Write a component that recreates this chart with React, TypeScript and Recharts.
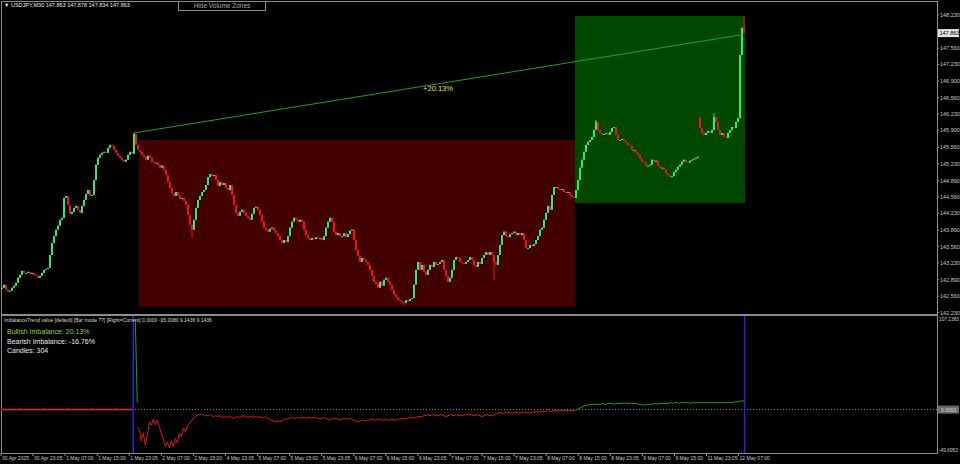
import React from "react";
import { ComposedChart, Bar, Line, XAxis, YAxis, ReferenceArea, ReferenceLine, Label } from "recharts";

// USDJPY M30 closes, one value per 30-minute bar
const preRangeCloses = [
  142.73, 142.79, 142.69, 142.65, 142.67, 142.73, 142.77, 142.83, 142.93, 142.99,
  143.07, 143.03, 143.03, 143.05, 143.01, 143.03, 142.99, 142.97, 142.93, 142.97,
  143.03, 143.09, 143.11, 143.13, 143.39, 143.63, 143.77, 143.90, 143.98, 144.10,
  144.14, 144.54, 144.58, 144.40, 144.22, 144.26, 144.34, 144.38, 144.30, 144.24,
  144.38, 144.50, 144.62, 144.70, 144.58, 144.60, 144.90, 145.21, 145.35, 145.41,
  145.45, 145.47, 145.45, 145.55, 145.61, 145.59, 145.51, 145.45, 145.39, 145.35,
  145.31, 145.27, 145.31, 145.41, 145.47, 145.43, 145.83,
];

const bearRangeCloses = [
  145.61, 145.51, 145.47, 145.41, 145.37, 145.31, 145.39, 145.35, 145.27, 145.25,
  145.25, 145.21, 145.15, 145.19, 145.11, 145.00, 144.86, 144.74, 144.64, 144.58,
  144.66, 144.58, 144.52, 144.54, 144.48, 144.40, 144.20, 144.00, 143.90, 144.10,
  144.34, 144.50, 144.58, 144.66, 144.70, 144.80, 144.96, 145.02, 144.98, 145.00,
  144.90, 144.78, 144.86, 144.80, 144.84, 144.74, 144.70, 144.80, 144.60, 144.40,
  144.24, 144.18, 144.26, 144.30, 144.24, 144.18, 144.14, 144.10, 144.22, 144.34,
  144.36, 144.30, 144.20, 144.06, 143.94, 143.90, 143.86, 143.92, 143.94, 143.88,
  143.83, 143.77, 143.69, 143.63, 143.69, 143.65, 143.77, 143.94, 144.06, 144.14,
  144.10, 144.06, 144.10, 144.06, 143.90, 143.79, 143.73, 143.69, 143.73, 143.71,
  143.75, 143.73, 143.73, 143.69, 143.77, 143.94, 144.06, 144.14, 144.06, 143.86,
  143.79, 143.83, 143.77, 143.77, 143.83, 143.75, 143.81, 143.88, 143.90, 143.69,
  143.49, 143.37, 143.25, 143.33, 143.29, 143.25, 143.19, 143.09, 142.97, 142.85,
  142.81, 142.73, 142.85, 142.77, 142.89, 142.93, 142.85, 142.79, 142.69, 142.59,
  142.54, 142.48, 142.46, 142.44, 142.42, 142.48, 142.46, 142.50, 142.52, 142.79,
  143.09, 143.25, 143.09, 143.19, 143.05, 142.99, 143.09, 143.19, 143.15, 143.25,
  143.19, 143.21, 143.25, 143.29, 143.09, 142.97, 142.85, 142.93, 143.09, 143.29,
  143.35, 143.33, 143.25, 143.23, 143.21, 143.25, 143.29, 143.35, 143.29, 143.19,
  143.15, 143.25, 143.21, 143.33, 143.39, 143.45, 143.39, 143.45, 143.39, 143.25,
  143.19, 143.39, 143.59, 143.79, 143.86, 143.77, 143.75, 143.81, 143.83, 143.86,
  143.79, 143.83, 143.79, 143.83, 143.69, 143.53, 143.53, 143.59, 143.57, 143.61,
  143.69, 143.77, 143.90, 143.94, 144.10, 144.24, 144.38, 144.30, 144.60, 144.76,
  144.76, 144.72, 144.70, 144.72, 144.66, 144.64, 144.66, 144.60, 144.56, 144.54,
];

const bullRangeCloses = [
  144.70, 144.90, 145.15, 145.31, 145.47, 145.61, 145.67, 145.71, 145.77, 145.91,
  146.07, 145.91, 145.85, 145.81, 145.83, 145.85, 145.81, 145.87, 145.95, 145.97,
  145.81, 145.71, 145.71, 145.73, 145.69, 145.65, 145.61, 145.59, 145.51, 145.51,
  145.45, 145.41, 145.33, 145.27, 145.25, 145.19, 145.19, 145.21, 145.31, 145.27,
  145.29, 145.19, 145.15, 145.15, 145.11, 145.04, 145.00, 144.96, 144.98, 145.06,
  145.11, 145.17, 145.21, 145.27, 145.31, 145.27, 145.25, 145.29, 145.31, 145.33,
  145.35, 145.37, 145.95, 145.85, 145.81, 145.85, 145.89, 145.85, 145.91, 146.17,
  146.07, 145.91, 145.81, 145.85, 145.77, 145.75, 145.85, 145.91, 145.97, 145.95,
  146.07, 146.15, 147.42, 147.97, 147.863,
];

const firstOpen = 142.71;
// weekend gap: the first bar on Monday opens far from Friday's close
const gapOpens: Record<number, number> = { 349: 146.17 };
const wickHighs: Record<number, number> = { 66: 145.85, 297: 146.11, 356: 146.25, 371: 148.19 };
const wickLows: Record<number, number> = { 95: 143.73, 201: 142.38, 246: 142.89 };

// ImbalanceTrend sub-window
const bullSpike = [104, 8]; // bars 67-68
const bearImbalance = [
  -20, -23, -36, -27, -41, -30, -14, -18, -11, -17,
  -12, -20, -27, -34, -42, -37, -44, -36, -42, -33,
  -38, -27, -31, -21, -25, -19, -16, -13, -10, -8,
  -6, -6,
  -5, -6, -7, -7, -6, -7, -8, -7, -8, -7,
  -8, -9, -8, -9, -8, -9, -10, -9, -8, -9,
  -8, -7, -8, -9, -8, -8, -9, -8, -9, -8,
  -9, -9, -8, -10,
  -11, -12, -13, -14, -13, -14, -13, -12, -11, -10,
  -10, -9, -10, -10, -9, -10, -9, -9, -10, -9, -9, -10, -9, -9, -10,
  -10, -10, -9, -10, -11, -12, -11, -10, -10, -11, -12, -11, -10, -10, -11, -10,
  -11, -12, -13, -14, -13, -12, -12, -13, -12, -12, -11, -12, -12, -11, -11, -12, -12, -11, -12, -12, -11, -12,
  -12, -11, -11, -10, -11, -10, -10, -9, -9, -10, -9, -8, -8, -8, -7, -7, -6, -7, -6, -6, -7,
  -7, -6, -6, -7, -8, -7, -6, -6, -7, -6, -6, -7, -7, -6, -6, -5, -6, -6, -7, -6, -6, -7, -8, -7, -6, -6, -7, -7, -6,
  -5, -4, -3, -4, -4, -3, -3, -4, -4, -3, -3, -3, -4, -3, -3, -3, -4, -3, -3, -3, -2, -3, -3,
  -2, -2, -2, -1, -2, -2, -1, -1, -2, -1, -1, -1, -1, -1, -1, -1, -1, 0,
];
const bullImbalance = [
  0, 1, 2, 3, 4, 5, 5, 6, 6, 6,
  6, 6, 6, 7, 6, 6, 7, 7, 7, 6, 7, 7, 7, 7, 8, 7, 7, 7, 7, 7,
  7, 6, 6, 6, 5, 6, 6, 6, 6, 7, 6, 7, 7, 7, 7, 7, 7, 8, 7, 8,
  8, 7, 8, 8, 8, 8, 8, 7, 8, 8, 8, 8, 8, 8, 8, 8, 8, 8, 8, 8,
  8, 8, 8, 8, 8, 8, 8, 8, 8, 9, 9, 9, 10, 10, 9.1436,
];

const timeLabels = [
  "30 Apr 2025", "30 Apr 23:05", "1 May 07:00", "1 May 15:00", "1 May 23:05", "2 May 07:00",
  "2 May 15:00", "4 May 23:05", "5 May 07:00", "5 May 15:00", "5 May 23:05", "6 May 07:00",
  "6 May 15:00", "6 May 23:05", "7 May 07:00", "7 May 15:00", "7 May 23:05", "8 May 07:00",
  "8 May 15:00", "8 May 23:05", "9 May 07:00", "9 May 15:00", "11 May 23:05", "12 May 07:00",
];
const priceTicks = [
  148.23, 147.56, 147.23, 146.9, 146.56, 146.23, 145.9, 145.56, 145.23,
  144.89, 144.56, 144.23, 143.89, 143.56, 143.23, 142.89, 142.56, 142.23,
];
const indicatorTicks = [107.1383, 0, -49.6953];

const bearZone = { from: 69, to: 286, low: 142.35, high: 145.71 };
const bullZone = { from: 287, to: 371, low: 144.44, high: 148.21 };
const trend = { from: 66, fromPrice: 145.85, to: 370, toPrice: 147.83, label: "+20.13%" };
const rangeStart = 66;
const rangeEnd = 371;

const SLOTS = 468; // visible bar slots incl. the empty right shift
const BULL = "#2ee682";
const BEAR = "#f01414";
const FONT = "'Liberation Sans', Arial, sans-serif";

const closes = [...preRangeCloses, ...bearRangeCloses, ...bullRangeCloses];
const lastClose = closes[closes.length - 1];

const rows = Array.from({ length: SLOTS }, (_, bar) => {
  const row: any = { bar };
  const close = closes[bar];
  if (close !== undefined) {
    const open = gapOpens[bar] ?? (bar === 0 ? firstOpen : closes[bar - 1]);
    const high = Math.max(open, close, wickHighs[bar] ?? -Infinity);
    const low = Math.min(open, close, wickLows[bar] ?? Infinity);
    Object.assign(row, { open, close, high, low, range: [low, high] });
  }
  if (bar >= 68 && bar < 68 + bearImbalance.length) row.bear = bearImbalance[bar - 68];
  if (bar === 67 || bar === 68) row.bull = bullSpike[bar - 67];
  if (bar >= 287 && bar < 287 + bullImbalance.length) row.bull = bullImbalance[bar - 287];
  return row;
});

const Candle = (props: any) => {
  const { x, y, width, height, payload } = props;
  if (!payload || payload.close == null) return <g />;
  const { open, close, high, low } = payload;
  const span = high - low;
  const toY = (p: number) => (span > 0 ? y + ((high - p) / span) * height : y);
  const color = close >= open ? BULL : BEAR;
  const cx = x + width / 2;
  const top = toY(Math.max(open, close));
  const bottom = toY(Math.min(open, close));
  return (
    <g>
      <line x1={cx} x2={cx} y1={y} y2={y + height} stroke={color} strokeWidth={1} />
      <rect x={cx - 1} y={top} width={2} height={Math.max(1, bottom - top)} fill={color} />
    </g>
  );
};

const PriceTick = ({ x, y, payload }: any) => {
  const v = payload.value;
  if (v === lastClose) {
    return (
      <g>
        <rect x={x + 1} y={y - 4} width={21} height={8} fill="#e4e4e4" />
        <text x={x + 2.5} y={y + 2} fontSize={5.5} fontFamily={FONT} fill="#000">{v.toFixed(3)}</text>
      </g>
    );
  }
  return (
    <g>
      <line x1={x} x2={x + 2} y1={y} y2={y} stroke="#909090" />
      <text x={x + 3} y={y + 2} fontSize={5.5} fontFamily={FONT} fill="#c8c8c8">{v.toFixed(3)}</text>
    </g>
  );
};

const IndicatorTick = ({ x, y, payload }: any) => {
  const v = payload.value;
  if (v === 0) {
    return (
      <g>
        <rect x={x + 1} y={y - 4} width={21} height={8} fill="#6a6a6a" />
        <text x={x + 4} y={y + 2} fontSize={5} fontFamily={FONT} fill="#d8d8d8">{v.toFixed(4)}</text>
      </g>
    );
  }
  const dy = v > 0 ? 5 : -1;
  return (
    <g>
      <line x1={x} x2={x + 1.5} y1={y} y2={y} stroke="#909090" />
      <text x={x + 2} y={y + dy} fontSize={4.8} fontFamily={FONT} fill="#c8c8c8">{v.toFixed(4)}</text>
    </g>
  );
};

const TimeTick = ({ x, y, payload }: any) => {
  const label = timeLabels[payload.value / 16];
  if (!label) return <g />;
  return (
    <g>
      <line x1={x} x2={x} y1={y} y2={y + 3} stroke="#909090" />
      <text x={x + 1} y={y + 7} fontSize={5} fontFamily={FONT} fill="#c8c8c8">{label}</text>
    </g>
  );
};

const frame = (top: number, height: number): React.CSSProperties => ({
  position: "absolute", left: 1, top, width: 937, height,
  border: "1px solid #8c8c8c", boxSizing: "border-box",
});

export default function App() {
  return (
    <div style={{ position: "fixed", left: 0, top: 0, width: 960, height: 464, background: "#000", overflow: "hidden", fontFamily: FONT }}>
      <div style={frame(1, 314)} />
      <div style={frame(315, 139)} />

      <div style={{ position: "absolute", left: 0, top: 0 }}>
        <ComposedChart width={960} height={316} data={rows} margin={{ top: 1, right: 0, bottom: 2, left: 1 }} barCategoryGap={0}>
          <XAxis dataKey="bar" hide />
          <YAxis
            orientation="right" width={23} type="number" domain={[142.2, 148.51]} allowDataOverflow
            ticks={[...priceTicks, lastClose]} interval={0} tickSize={0} tickMargin={0}
            axisLine={false} tickLine={false} tick={<PriceTick />}
          />
          <ReferenceArea x1={bearZone.from} x2={bearZone.to} y1={bearZone.low} y2={bearZone.high} fill="#420000" fillOpacity={1} stroke="none" />
          <ReferenceArea x1={bullZone.from} x2={bullZone.to} y1={bullZone.low} y2={bullZone.high} fill="#004800" fillOpacity={1} stroke="none" />
          <Bar dataKey="range" shape={(p: any) => <Candle {...p} />} isAnimationActive={false} />
          <ReferenceLine
            segment={[{ x: trend.from, y: trend.fromPrice }, { x: trend.to, y: trend.toPrice }]}
            stroke="#1fa01f" strokeWidth={1}
          >
            <Label value={trend.label} position="center" dy={4} fill="#e8e04c" fontSize={7.5} fontFamily={FONT} />
          </ReferenceLine>
        </ComposedChart>
      </div>

      <div style={{ position: "absolute", left: 0, top: 316 }}>
        <ComposedChart width={960} height={148} data={rows} margin={{ top: 0, right: 0, bottom: 0, left: 1 }}>
          <XAxis dataKey="bar" height={11} interval={15} tickSize={0} tickMargin={0} axisLine={false} tickLine={false} tick={<TimeTick />} />
          <YAxis
            orientation="right" width={23} type="number" domain={[-49.6953, 107.1383]} allowDataOverflow
            ticks={indicatorTicks} interval={0} tickSize={0} tickMargin={0}
            axisLine={false} tickLine={false} tick={<IndicatorTick />}
          />
          <ReferenceLine y={0} stroke="#8a8a8a" strokeDasharray="1 2" />
          <ReferenceLine segment={[{ x: 0, y: 0 }, { x: rangeStart, y: 0 }]} stroke="#d01010" strokeWidth={2} strokeDasharray="2 1" />
          <ReferenceLine x={rangeStart} position="end" stroke="#1d2cd0" strokeWidth={1.5} />
          <ReferenceLine x={rangeEnd} position="end" stroke="#1d2cd0" strokeWidth={1.5} />
          <Line dataKey="bear" stroke="#dc1a1a" strokeWidth={1} dot={false} isAnimationActive={false} />
          <Line dataKey="bull" stroke="#23a023" strokeWidth={1} dot={false} isAnimationActive={false} />
        </ComposedChart>
      </div>

      <div style={{ position: "absolute", left: 4, top: 2, fontSize: 5.5, color: "#e8e8e8", whiteSpace: "nowrap" }}>
        ▼ USDJPY,M30 147.863 147.878 147.834 147.863
      </div>
      <div style={{ position: "absolute", left: 178, top: 1, width: 88, height: 10, border: "1px solid #8a8a8a", boxSizing: "border-box", color: "#a8a8a8", fontSize: 6.5, lineHeight: "8px", textAlign: "center" }}>
        Hide Volume Zones
      </div>
      <div style={{ position: "absolute", left: 4, top: 317, fontSize: 5, color: "#d8d8d8", whiteSpace: "nowrap" }}>
        ImbalanceTrend value [default] [Bar mode ??] [Right=Current] 0.0000 -95.0080 9.1436 9.1436
      </div>
      <div style={{ position: "absolute", left: 7, top: 327, fontSize: 7, lineHeight: "9.5px", whiteSpace: "nowrap" }}>
        <div style={{ color: "#8ed23c" }}>Bullish Imbalance: 20.13%</div>
        <div style={{ color: "#e8e8e8" }}>Bearish Imbalance: -16.76%</div>
        <div style={{ color: "#e8e8e8" }}>Candles: 304</div>
      </div>
    </div>
  );
}
